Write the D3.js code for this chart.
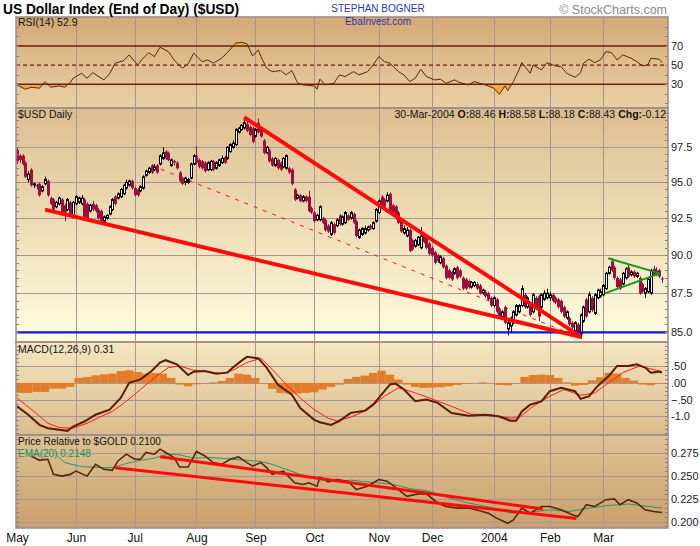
<!DOCTYPE html>
<html>
<head>
<meta charset="utf-8">
<script src="https://cdn.jsdelivr.net/npm/d3@7"></script>
<style>
    body { margin: 0; background: #fff; }
    svg text { font-family: Arial, "Liberation Sans", sans-serif; }
</style>
</head>
<body>
<div id="chart"></div>
<script>
/* * * * * * * * * * * * * *
*   $USD daily, 4 panels   *
* * * * * * * * * * * * * */

// month ticks (trading-day index of first session in each month)
let monthLabels = ["May", "Jun", "Jul", "Aug", "Sep", "Oct", "Nov", "Dec", "2004", "Feb", "Mar"];
let monthStarts = [0, 21, 42, 64, 85, 106, 129, 148, 170, 190, 209];

// daily candles [open, high, low, close], 1-May-2003 .. 30-Mar-2004
let ohlc = [
    [97.3,97.5,96.3,96.5],[96.9,97.0,96.4,96.6],[96.9,97.0,96.2,96.3],[96.4,96.5,95.3,95.4],[95.2,95.8,95.0,95.6],
    [95.9,96.0,94.7,94.8],[94.8,95.0,94.6,94.9],[94.8,94.9,94.5,94.7],[94.9,95.0,94.0,94.1],[94.4,94.8,94.3,94.7],
    [94.9,95.4,94.8,95.2],[95.1,95.2,94.0,94.1],[93.9,94.0,93.4,93.5],[93.8,93.9,93.0,93.1],[93.3,93.7,93.2,93.6],
    [93.5,94.0,93.4,93.9],[93.8,93.9,92.8,92.9],[93.4,93.5,92.3,92.9],[93.1,93.9,93.0,93.8],[93.6,93.7,92.7,92.8],
    [92.6,93.7,92.5,93.6],[93.5,94.1,93.4,94.0],[93.6,94.0,93.5,93.9],[93.5,94.1,93.4,93.9],[93.8,93.9,92.5,92.6],
    [93.5,93.6,92.4,92.5],[93.0,93.5,92.9,93.4],[93.5,93.7,93.0,93.1],[93.4,93.5,92.9,93.0],[93.1,93.2,92.4,92.5],
    [93.0,93.1,92.2,92.3],[92.3,92.7,92.2,92.6],[92.5,92.8,92.4,92.7],[92.8,93.4,92.7,93.3],[93.1,93.9,93.0,93.8],
    [94.0,94.1,93.4,93.5],[93.9,94.3,93.8,94.2],[94.0,94.6,93.9,94.5],[94.2,94.9,94.1,94.8],[94.6,95.2,94.5,95.0],
    [94.8,95.2,94.7,95.1],[95.1,95.2,94.5,94.6],[94.6,94.7,94.0,94.1],[94.5,94.6,94.0,94.1],[94.4,94.8,94.3,94.7],
    [94.6,95.5,94.5,95.4],[95.5,95.9,95.4,95.8],[95.7,96.1,95.6,96.0],[96.2,96.3,95.6,95.7],[95.9,96.3,95.8,96.1],
    [96.2,96.3,95.6,95.7],[96.3,97.0,96.2,96.9],[96.7,97.5,96.6,97.1],[97.2,97.3,96.6,96.7],[97.1,97.2,96.5,96.6],
    [96.2,96.7,96.1,96.6],[96.5,96.6,96.2,96.4],[96.4,96.5,95.9,96.0],[95.7,95.8,95.0,95.1],[95.3,95.4,94.8,94.9],
    [95.0,95.4,94.8,95.3],[95.0,95.3,94.9,95.2],[95.3,96.4,95.2,96.3],[96.3,97.0,96.2,96.9],[96.9,97.6,96.3,96.4],
    [96.6,96.7,96.0,96.1],[96.5,96.6,95.9,96.0],[96.4,96.5,95.7,95.8],[95.9,96.5,95.8,96.4],[95.9,96.6,95.8,96.5],
    [96.5,96.6,95.8,95.9],[96.0,96.5,95.9,96.4],[96.2,96.7,96.1,96.6],[96.4,96.9,96.3,96.7],[96.8,96.9,96.3,96.4],
    [96.7,97.6,96.6,97.5],[97.2,97.8,97.1,97.7],[97.5,98.0,97.4,97.8],[97.7,98.9,97.6,98.8],[98.6,99.0,98.5,98.9],
    [98.8,99.2,98.7,99.1],[98.9,99.5,98.8,99.3],[99.2,99.6,98.6,98.7],[99.0,99.1,98.3,98.4],[98.9,99.0,97.8,97.9],
    [98.3,98.9,98.2,98.8],[99.3,99.6,98.5,98.6],[98.9,99.0,98.2,98.3],[98.0,98.1,97.0,97.1],[97.1,97.6,97.0,97.5],
    [97.3,97.4,96.4,96.5],[96.7,96.8,96.1,96.2],[96.2,96.8,96.1,96.7],[96.6,96.7,95.9,96.0],[96.4,96.5,95.8,95.9],
    [96.1,96.8,96.0,96.7],[96.0,97.0,95.9,96.9],[96.0,96.1,95.6,95.7],[95.9,96.0,94.8,94.9],[94.5,94.6,93.7,93.8],
    [93.9,94.2,93.8,94.1],[94.1,94.2,93.6,93.7],[93.7,94.1,93.6,94.0],[94.0,94.1,93.6,93.7],[94.0,94.4,92.9,93.0],
    [93.2,93.3,92.8,92.9],[92.9,93.0,92.2,92.3],[92.4,92.8,92.3,92.7],[92.4,93.4,92.3,93.3],[92.5,92.6,92.1,92.2],
    [92.4,92.5,91.6,91.7],[92.0,92.1,91.5,91.6],[91.4,92.3,91.3,92.2],[92.1,92.2,91.4,91.5],[92.0,92.5,91.9,92.4],
    [92.7,92.8,92.0,92.1],[92.1,92.7,92.0,92.6],[92.2,93.0,92.1,92.9],[92.7,92.8,92.3,92.4],[92.5,93.0,92.4,92.9],
    [92.8,92.9,92.1,92.2],[92.3,92.4,91.2,91.3],[91.2,91.8,91.1,91.7],[91.4,91.9,91.3,91.8],[91.5,92.0,91.4,91.8],
    [91.7,92.0,91.6,91.9],[92.0,92.1,91.7,91.8],[91.8,92.3,91.7,92.2],[92.3,93.2,92.2,93.1],[92.9,93.8,92.8,93.7],
    [94.0,94.1,93.2,93.3],[93.8,93.9,93.2,93.3],[93.7,94.3,93.6,94.1],[94.2,94.3,92.9,93.0],[93.4,93.5,92.8,92.9],
    [93.3,93.4,92.4,92.5],[92.9,93.0,92.1,92.2],[92.4,92.5,91.5,91.6],[91.5,92.0,91.4,91.8],[91.3,91.9,91.2,91.7],
    [91.7,91.8,90.2,90.3],[91.0,91.1,90.3,90.4],[90.6,91.1,90.5,91.0],[90.7,91.3,90.6,91.2],[90.5,91.9,90.4,91.3],
    [91.4,91.5,90.8,90.9],[91.2,91.3,90.4,90.5],[90.8,90.9,90.0,90.1],[90.5,90.6,89.9,90.0],[90.2,90.3,89.4,89.5],
    [90.0,90.1,89.5,89.6],[89.5,90.0,89.4,89.9],[89.8,89.9,89.1,89.2],[89.3,89.4,88.4,88.5],[89.0,89.1,88.4,88.5],
    [88.9,89.0,88.3,88.4],[88.8,89.2,88.7,89.1],[89.2,89.3,88.4,88.5],[89.0,89.1,88.5,88.6],[88.5,88.6,87.7,87.8],
    [88.4,88.5,87.7,87.8],[88.3,88.4,87.8,87.9],[87.9,88.3,87.8,88.2],[88.0,88.3,87.9,88.2],[88.1,88.2,87.7,87.8],
    [88.0,88.1,87.4,87.5],[87.5,87.8,87.4,87.7],[87.6,87.7,87.2,87.3],[87.5,87.6,87.0,87.1],[87.2,87.3,86.6,86.7],
    [86.7,87.3,86.6,87.2],[87.1,87.2,86.2,86.3],[86.5,86.6,85.9,86.0],[86.0,86.4,85.9,86.3],[86.6,86.7,85.5,85.6],
    [85.2,85.7,84.8,85.6],[85.4,86.0,85.0,85.9],[85.6,86.4,85.5,86.3],[86.1,86.8,86.0,86.7],[86.3,86.8,86.2,86.7],
    [86.7,88.0,86.6,87.8],[87.4,87.5,86.5,86.6],[86.6,87.3,86.5,87.2],[86.7,86.8,86.0,86.1],[86.3,87.5,86.2,87.4],
    [87.2,87.3,86.5,86.6],[87.3,87.4,85.7,86.0],[86.6,87.5,86.5,87.4],[87.1,87.7,87.0,87.5],[87.2,87.8,87.1,87.5],
    [87.2,87.6,87.0,87.4],[87.4,87.5,86.9,87.0],[87.2,87.3,86.8,86.9],[87.1,87.2,86.5,86.6],[87.0,87.1,86.2,86.3],
    [86.6,86.7,85.9,86.0],[85.9,86.4,85.8,86.3],[85.9,86.0,85.4,85.5],[85.6,85.7,85.2,85.3],[85.1,85.7,85.0,85.6],
    [85.5,85.6,84.8,85.0],[84.9,86.2,84.6,86.1],[85.7,86.7,85.6,86.6],[87.1,87.2,85.9,86.0],[86.3,87.6,86.2,87.4],
    [87.2,87.3,86.3,86.4],[86.2,87.5,86.1,87.4],[87.2,87.8,87.1,87.7],[87.3,87.8,87.2,87.6],[87.4,88.1,87.3,88.0],
    [87.8,88.9,87.7,88.8],[88.8,89.3,88.7,89.2],[89.6,89.8,88.9,89.0],[89.2,89.3,88.4,88.5],[88.5,88.6,87.8,87.9],
    [88.4,88.5,87.7,87.8],[88.1,88.9,88.0,88.8],[88.5,89.2,88.4,89.1],[89.2,89.4,88.5,88.6],[88.7,89.0,88.6,88.9],
    [88.9,89.0,88.5,88.6],[88.6,88.9,88.5,88.8],[88.5,88.6,87.4,87.5],[88.1,88.2,87.5,87.6],[87.5,87.9,87.2,87.8],
    [87.6,88.5,87.5,88.4],[87.5,89.1,87.4,89.0],[89.1,89.3,88.6,88.7],[89.0,89.2,88.6,88.7],[89.0,89.1,88.5,88.6],
    [88.46,88.58,88.18,88.43]
];

// RSI(14), [day, value]
let rsiPts = [
    [0,29.3],[3,24.8],[5,26.9],[8,25.9],[10,32.8],[12,26.9],[15,28.3],[17,26.9],[19,31.7],[20,36.3],
    [23,41.5],[25,36.3],[27,42.2],[31,34.5],[33,40.8],[35,52],[38,54.7],[40,60.7],[43,50.2],[45,57.2],
    [47,63.1],[49,58.9],[51,68.7],[54,64.1],[56,55.4],[59,46.8],[61,51.3],[63,62.4],[66,53.7],[68,55.4],
    [70,52],[73,57.2],[75,63.1],[78,72.9],[80,73.9],[82,72.2],[84,59.6],[86,65.9],[87,58.9],[89,46.8],
    [91,43.2],[94,44.3],[96,39.8],[98,44.3],[100,31.7],[102,29.3],[106,28.3],[107,24.8],[108,35.3],[110,29.3],
    [113,31.1],[115,39.8],[117,38],[120,43.2],[122,39.8],[125,43.2],[127,50.2],[129,58.9],[131,53.7],[133,52],
    [136,43.2],[138,39.8],[140,32.8],[142,36.3],[144,45.7],[146,38],[149,34.5],[151,35.3],[153,31.1],[156,34.5],
    [158,31.7],[161,29.3],[163,32.8],[165,31.1],[168,28.3],[170,25.9],[172,19.6],[174,28.3],[175,23.4],[177,32.8],
    [179,45],[180,52.6],[183,41.5],[184,50.2],[187,45],[189,52.6],[192,49.2],[194,48.5],[196,41.5],[199,37.3],
    [201,42.2],[202,52],[204,56.2],[206,52.6],[208,55.4],[210,64.1],[212,63.1],[214,55.4],[216,60.7],[219,57.2],
    [221,53.7],[223,49.2],[225,50.2],[226,57.2],[229,56.2],[230,52.9]
];

// MACD(12,26,9) line and signal, [day, value]
let macdPts = [
    [0,-0.705],[4,-0.957],[8,-1.26],[11,-1.36],[15,-1.41],[18,-1.44],[20,-1.31],[24,-1.16],[28,-0.957],[33,-0.805],
    [37,-0.45],[40,0.006],[44,0.106],[48,0.359],[51,0.614],[53,0.684],[57,0.562],[61,0.237],[63,0.34],[67,0.359],
    [71,0.28],[75,0.31],[77,0.462],[80,0.663],[82,0.784],[86,0.745],[89,0.462],[93,-0.046],[98,-0.35],[101,-0.754],
    [106,-1.11],[108,-1.18],[112,-1.26],[115,-1.14],[119,-0.9],[124,-0.836],[127,-0.653],[130,-0.35],[133,-0.046],[135,-0.02],
    [138,-0.198],[142,-0.55],[146,-0.5],[150,-0.6],[155,-0.906],[161,-0.988],[167,-0.957],[172,-1.01],[176,-1.14],[178,-1.14],
    [180,-0.857],[183,-0.653],[187,-0.553],[190,-0.249],[194,-0.146],[199,-0.249],[201,-0.48],[204,-0.4],[207,-0.097],[211,0.207],
    [214,0.51],[218,0.51],[221,0.562],[224,0.462],[226,0.31],[229,0.34],[230,0.31]
];
let signalPts = [
    [0,-0.45],[6,-0.857],[11,-1.21],[15,-1.34],[20,-1.36],[25,-1.21],[30,-1.01],[34,-0.857],[39,-0.553],[44,-0.198],
    [49,0.158],[54,0.462],[58,0.51],[63,0.38],[68,0.34],[73,0.28],[77,0.38],[82,0.614],[87,0.745],[91,0.41],
    [96,-0.046],[101,-0.45],[106,-0.805],[111,-1.06],[114,-1.14],[119,-1.03],[125,-0.805],[131,-0.4],[136,-0.146],[141,-0.27],
    [147,-0.45],[155,-0.705],[162,-0.94],[169,-0.957],[176,-1.06],[179,-1.04],[184,-0.705],[190,-0.4],[195,-0.198],[201,-0.37],
    [206,-0.3],[211,0.006],[216,0.31],[222,0.51],[228,0.38],[230,0.34]
];
// histogram, one bar per 3 sessions starting at day 0
let histValues = [
    -0.30,-0.30,-0.27,-0.27,-0.17,-0.17,-0.12,0.15,0.18,0.23,
    0.26,0.28,0.36,0.38,0.33,0.28,0.30,0.28,0.15,-0.05,
    -0.10,-0.04,0.00,0.02,0.06,0.15,0.28,0.25,0.15,0.00,
    -0.18,-0.30,-0.32,-0.32,-0.30,-0.28,-0.20,-0.12,-0.05,0.12,
    0.18,0.22,0.30,0.37,0.25,0.10,-0.05,-0.12,-0.15,-0.14,
    -0.13,-0.10,-0.06,-0.03,0.00,0.02,0.00,-0.06,-0.07,0.00,
    0.18,0.24,0.25,0.24,0.15,0.02,-0.08,-0.06,0.08,0.17,
    0.30,0.28,0.15,0.07,-0.05,-0.07,-0.02
];

// price relative to $GOLD and its EMA(20), [day, value]
let relPts = [
    [5,0.2719],[8,0.2671],[11,0.2682],[13,0.2517],[16,0.2498],[19,0.2517],[21,0.2553],[25,0.2498],[28,0.2627],[31,0.2572],
    [34,0.2561],[36,0.2664],[39,0.2738],[42,0.2682],[44,0.2682],[46,0.2757],[49,0.2738],[51,0.2793],[53,0.2757],[56,0.2701],
    [58,0.2597],[61,0.2597],[64,0.2768],[67,0.2719],[70,0.2646],[73,0.2627],[76,0.2682],[79,0.2708],[82,0.2646],[84,0.2608],
    [87,0.2646],[89,0.2591],[91,0.2517],[95,0.2553],[99,0.2425],[102,0.2406],[104,0.2425],[107,0.2387],[108,0.2487],[111,0.2436],
    [114,0.2461],[118,0.2442],[121,0.2351],[125,0.2387],[129,0.2461],[132,0.2442],[136,0.2351],[139,0.2277],[143,0.2303],[146,0.2303],
    [150,0.2204],[153,0.2166],[157,0.2148],[161,0.2148],[165,0.2118],[168,0.2093],[171,0.2038],[175,0.1982],[177,0.2019],[180,0.2148],
    [183,0.2093],[187,0.2166],[190,0.2166],[194,0.2129],[198,0.2074],[200,0.2055],[203,0.2185],[206,0.2166],[210,0.2240],[213,0.2248],
    [215,0.2185],[218,0.2240],[221,0.2204],[224,0.2129],[227,0.2111],[230,0.2100]
];
let emaPts = [
    [14,0.2730],[17,0.2646],[23,0.2602],[30,0.2591],[34,0.2591],[39,0.2635],[44,0.2671],[49,0.2694],[54,0.2738],[58,0.2730],
    [63,0.2694],[68,0.2701],[73,0.2694],[77,0.2682],[82,0.2671],[87,0.2657],[91,0.2627],[96,0.2572],[101,0.2517],[106,0.2472],
    [111,0.2442],[115,0.2442],[119,0.2454],[126,0.2431],[133,0.2414],[140,0.2362],[147,0.2332],[154,0.2259],[161,0.2204],[169,0.2155],
    [176,0.2093],[183,0.2104],[190,0.2129],[197,0.2111],[204,0.2148],[211,0.2177],[218,0.2192],[225,0.2166],[230,0.2148]
];

// hand-drawn annotations: [day1, value1, day2, value2]
let priceTrends = [[10, 93.1, 201.3, 84.7], [81.0, 99.7, 201.3, 84.7]];
let priceTrendDashed = [[48.0, 96.2, 198.9, 84.8]];
let triangle = [[210.8, 89.8, 229.2, 88.8], [209.6, 87.49, 229.2, 88.8]];
let supportLevel = 85.0;
let relTrends = [[35.0, 0.2589, 199.5, 0.2035], [51.0, 0.2711, 187.5, 0.2139]];

// tick values per panel
let priceTicks = [85, 87.5, 90, 92.5, 95, 97.5];
let rsiTicks = [70, 50, 30];
let macdTicks = [0.5, 0, -0.5, -1];
let relTicks = [0.200, 0.225, 0.250, 0.275];


/* layout */
let width = 700, height = 546;
let left = 16, right = 668;
let panels = {
    rsi:   {top: 17,  bottom: 108, c1: "#d3a976", c2: "#e9d0a4"},
    price: {top: 108, bottom: 342, c1: "#ddbd8f", c2: "#fffde0"},
    macd:  {top: 342, bottom: 435, c1: "#f3e6c2", c2: "#dcbb8b"},
    rel:   {top: 435, bottom: 528, c1: "#dfc295", c2: "#c9a06c"}
};
let gridColour = "#a99494";

let svg = d3.select("#chart").append("svg")
    .attr("width", width)
    .attr("height", height);
let defs = svg.append("defs");

let x = d3.scaleLinear().domain([0, 230]).range([17, 662]);
let yRsi = d3.scaleLinear().domain([5.2, 100.3]).range([panels.rsi.bottom, panels.rsi.top]);
let yPrice = d3.scaleLog().domain([84.39, 100.39]).range([panels.price.bottom, panels.price.top]);
let yMacd = d3.scaleLinear().domain([-1.565, 1.231]).range([panels.macd.bottom, panels.macd.top]);
let yRel = d3.scaleLinear().domain([0.193, 0.2948]).range([panels.rel.bottom, panels.rel.top]);

// background, clip and vertical grid for each panel
Object.keys(panels).forEach(key => {
    let p = panels[key];
    let g = defs.append("linearGradient").attr("id", "bg-" + key)
        .attr("x1", 0).attr("y1", 0).attr("x2", 0).attr("y2", 1);
    g.append("stop").attr("offset", "0%").attr("stop-color", p.c1);
    g.append("stop").attr("offset", "100%").attr("stop-color", p.c2);
    defs.append("clipPath").attr("id", "clip-" + key).append("rect")
        .attr("x", left).attr("y", p.top).attr("width", right - left).attr("height", p.bottom - p.top);

    svg.append("rect")
        .attr("x", left).attr("y", p.top)
        .attr("width", right - left).attr("height", p.bottom - p.top)
        .attr("fill", `url(#bg-${key})`);

    svg.append("g").selectAll("line")
        .data(monthStarts.slice(1))
        .enter().append("line")
        .attr("x1", d => Math.round(x(d)) + 0.5).attr("x2", d => Math.round(x(d)) + 0.5)
        .attr("y1", p.top).attr("y2", p.bottom)
        .attr("stroke", gridColour).attr("stroke-width", 1);

    p.layer = svg.append("g").attr("clip-path", `url(#clip-${key})`);
});

function hGrid(layer, scale, ticks) {
    layer.selectAll("line.hgrid")
        .data(ticks)
        .enter().append("line")
        .attr("class", "hgrid")
        .attr("x1", left).attr("x2", right)
        .attr("y1", d => Math.round(scale(d)) + 0.5).attr("y2", d => Math.round(scale(d)) + 0.5)
        .attr("stroke", gridColour).attr("stroke-width", 1);
}
hGrid(panels.price.layer, yPrice, priceTicks);
hGrid(panels.macd.layer, yMacd, macdTicks);
hGrid(panels.rel.layer, yRel, relTicks);

/* RSI panel */
let rsiLayer = panels.rsi.layer;
let rsiArea70 = d3.area().x(d => x(d[0])).y0(yRsi(70)).y1(d => yRsi(d[1]));
let rsiArea30 = d3.area().x(d => x(d[0])).y0(yRsi(30)).y1(d => yRsi(d[1]));
defs.append("clipPath").attr("id", "clip-over").append("rect")
    .attr("x", left).attr("y", panels.rsi.top).attr("width", right - left).attr("height", yRsi(70) - panels.rsi.top);
defs.append("clipPath").attr("id", "clip-under").append("rect")
    .attr("x", left).attr("y", yRsi(30)).attr("width", right - left).attr("height", panels.rsi.bottom - yRsi(30));
rsiLayer.append("path").datum(rsiPts).attr("d", rsiArea70)
    .attr("fill", "#f2ad36").attr("clip-path", "url(#clip-over)");
rsiLayer.append("path").datum(rsiPts).attr("d", rsiArea30)
    .attr("fill", "#f2ad36").attr("clip-path", "url(#clip-under)");
rsiLayer.selectAll("line.level")
    .data(rsiTicks)
    .enter().append("line")
    .attr("class", "level")
    .attr("x1", left).attr("x2", right)
    .attr("y1", d => yRsi(d)).attr("y2", d => yRsi(d))
    .attr("stroke", "#6b1e0e").attr("stroke-width", 1.4)
    .attr("stroke-dasharray", d => d === 50 ? "4,3" : null);
rsiLayer.append("path").datum(rsiPts)
    .attr("d", d3.line().x(d => x(d[0])).y(d => yRsi(d[1])))
    .attr("fill", "none").attr("stroke", "#5b2608").attr("stroke-width", 1);

/* price panel */
let priceLayer = panels.price.layer;
let trendLine = d3.line().x(d => x(d[0])).y(d => yPrice(d[1]));
priceLayer.selectAll("path.dashed")
    .data(priceTrendDashed)
    .enter().append("path")
    .attr("class", "dashed")
    .attr("d", d => trendLine([[d[0], d[1]], [d[2], d[3]]]))
    .attr("stroke", "#ff1010").attr("stroke-width", 1).attr("stroke-dasharray", "4,6");

let candles = priceLayer.selectAll("g.candle")
    .data(ohlc)
    .enter().append("g")
    .attr("class", "candle");
candles.append("line")
    .attr("x1", (d, i) => Math.round(x(i)) + 0.5).attr("x2", (d, i) => Math.round(x(i)) + 0.5)
    .attr("y1", d => yPrice(d[1])).attr("y2", d => yPrice(d[2]))
    .attr("stroke", d => d[3] < d[0] ? "#9b1040" : "#000").attr("stroke-width", 1);
candles.append("rect")
    .attr("x", (d, i) => d[3] < d[0] ? Math.round(x(i)) - 1 : Math.round(x(i)) - 0.5)
    .attr("width", d => d[3] < d[0] ? 3 : 2)
    .attr("y", d => yPrice(Math.max(d[0], d[3])))
    .attr("height", d => Math.max(1, yPrice(Math.min(d[0], d[3])) - yPrice(Math.max(d[0], d[3]))))
    .attr("fill", d => d[3] < d[0] ? "#9b1040" : "#fff")
    .attr("stroke", d => d[3] < d[0] ? "none" : "#000")
    .attr("stroke-width", 1);

priceLayer.append("line")
    .attr("x1", left).attr("x2", right)
    .attr("y1", yPrice(supportLevel)).attr("y2", yPrice(supportLevel))
    .attr("stroke", "#0a14e6").attr("stroke-width", 2.2);

priceLayer.selectAll("path.trend")
    .data(priceTrends)
    .enter().append("path")
    .attr("class", "trend")
    .attr("d", d => trendLine([[d[0], d[1]], [d[2], d[3]]]))
    .attr("stroke", "#ff0a0a").attr("stroke-width", 4);
priceLayer.selectAll("path.tri")
    .data(triangle)
    .enter().append("path")
    .attr("class", "tri")
    .attr("d", d => trendLine([[d[0], d[1]], [d[2], d[3]]]))
    .attr("stroke", "#139a13").attr("stroke-width", 2);

/* MACD panel */
let macdLayer = panels.macd.layer;
macdLayer.selectAll("rect.hist")
    .data(histValues)
    .enter().append("rect")
    .attr("class", "hist")
    .attr("x", (d, i) => x(i * 3) - 1.4)
    .attr("width", x(3) - x(0))
    .attr("y", d => yMacd(Math.max(0, d)))
    .attr("height", d => Math.abs(yMacd(d) - yMacd(0)))
    .attr("fill", "#e27d2c");
macdLayer.append("path").datum(signalPts)
    .attr("d", d3.line().x(d => x(d[0])).y(d => yMacd(d[1])))
    .attr("fill", "none").attr("stroke", "#ff1a1a").attr("stroke-width", 1);
macdLayer.append("path").datum(macdPts)
    .attr("d", d3.line().x(d => x(d[0])).y(d => yMacd(d[1])))
    .attr("fill", "none").attr("stroke", "#5a1c04").attr("stroke-width", 2);

/* price relative panel */
let relLayer = panels.rel.layer;
relLayer.append("path").datum(emaPts)
    .attr("d", d3.line().x(d => x(d[0])).y(d => yRel(d[1])))
    .attr("fill", "none").attr("stroke", "#1e9a6c").attr("stroke-width", 1);
relLayer.append("path").datum(relPts)
    .attr("d", d3.line().x(d => x(d[0])).y(d => yRel(d[1])))
    .attr("fill", "none").attr("stroke", "#5a2508").attr("stroke-width", 1.6);
let relLine = d3.line().x(d => x(d[0])).y(d => yRel(d[1]));
relLayer.selectAll("path.trend")
    .data(relTrends)
    .enter().append("path")
    .attr("class", "trend")
    .attr("d", d => relLine([[d[0], d[1]], [d[2], d[3]]]))
    .attr("stroke", "#ff0a0a").attr("stroke-width", 3);

/* minor ticks on both frame edges */
function minorTicks(scale, values) {
    let g = svg.append("g");
    [left, right].forEach(edge => {
        g.selectAll(null)
            .data(values)
            .enter().append("line")
            .attr("x1", edge).attr("x2", edge === left ? edge + 3 : edge - 3)
            .attr("y1", d => Math.round(scale(d)) + 0.5).attr("y2", d => Math.round(scale(d)) + 0.5)
            .attr("stroke", "#8e7c7c").attr("stroke-width", 1);
    });
}
minorTicks(yPrice, d3.range(85, 100.1, 0.5));
minorTicks(yRsi, d3.range(10, 100, 10));
minorTicks(yMacd, d3.range(-1.5, 1.25, 0.125));
minorTicks(yRel, d3.range(0.195, 0.295, 0.005));

/* frames */
Object.keys(panels).forEach(key => {
    let p = panels[key];
    svg.append("rect")
        .attr("x", left).attr("y", p.top)
        .attr("width", right - left).attr("height", p.bottom - p.top)
        .attr("fill", "none").attr("stroke", "#a18d8d").attr("stroke-width", 1.6);
});

/* right axes */
function rightAxis(scale, ticks, fmt) {
    let ax = svg.append("g")
        .attr("transform", `translate(${right}, 0)`)
        .call(d3.axisRight(scale).tickValues(ticks).tickFormat(fmt).tickSize(0).tickPadding(3));
    ax.select(".domain").remove();
    ax.selectAll("text").attr("font-size", 11).attr("fill", "#1a1a1a")
        .attr("font-family", "Arial, 'Liberation Sans', sans-serif");
}
rightAxis(yRsi, rsiTicks, d3.format("d"));
rightAxis(yPrice, priceTicks, d3.format(".1f"));
rightAxis(yMacd, macdTicks, d => d === -1 ? "-1.0" : d3.format(".2f")(d).replace("0.", "."));
rightAxis(yRel, relTicks, d3.format(".3f"));

/* bottom axis */
let xAxis = svg.append("g")
    .attr("transform", `translate(0, ${panels.rel.bottom})`)
    .call(d3.axisBottom(x).tickValues(monthStarts).tickFormat((d, i) => monthLabels[i]).tickSize(0).tickPadding(5));
xAxis.select(".domain").remove();
xAxis.selectAll("text").attr("font-size", 12).attr("fill", "#111")
    .attr("font-family", "Arial, 'Liberation Sans', sans-serif");

/* texts */
svg.append("text")
    .attr("x", 3).attr("y", 14)
    .attr("font-family", "Arial, 'Liberation Sans', sans-serif")
    .attr("font-weight", "bold").attr("font-size", 14.5).attr("fill", "#000")
    .attr("textLength", 236).attr("lengthAdjust", "spacingAndGlyphs")
    .text("US Dollar Index (End of Day) ($USD)");
svg.append("text")
    .attr("x", 378).attr("y", 12).attr("text-anchor", "middle")
    .attr("font-size", 10).attr("fill", "#2f36a8")
    .text("STEPHAN BOGNER");
svg.append("text")
    .attr("x", 378).attr("y", 25).attr("text-anchor", "middle")
    .attr("font-size", 10).attr("fill", "#2f36a8")
    .text("EbaInvest.com");
svg.append("text")
    .attr("x", 667).attr("y", 14).attr("text-anchor", "end")
    .attr("font-size", 12.5).attr("fill", "#8a8a8a")
    .text("© StockCharts.com");

svg.append("text").attr("x", 18).attr("y", 26).attr("font-size", 10.5).attr("fill", "#111")
    .text("RSI(14) 52.9");
svg.append("text").attr("x", 18).attr("y", 118).attr("font-size", 10.5).attr("fill", "#111")
    .text("$USD Daily");

let quote = svg.append("text")
    .attr("x", 666).attr("y", 118).attr("text-anchor", "end")
    .attr("font-size", 10.5).attr("fill", "#111");
[["30-Mar-2004 ", false], ["O:", true], ["88.46 ", false], ["H:", true], ["88.58 ", false],
 ["L:", true], ["88.18 ", false], ["C:", true], ["88.43 ", false], ["Chg:", true], ["-0.12", false]]
    .forEach(part => {
        quote.append("tspan").attr("font-weight", part[1] ? "bold" : "normal").text(part[0]);
    });

svg.append("text").attr("x", 18).attr("y", 353).attr("font-size", 10.5).attr("fill", "#111")
    .text("MACD(12,26,9) 0.31");
svg.append("text").attr("x", 18).attr("y", 445).attr("font-size", 10).attr("fill", "#111")
    .text("Price Relative to $GOLD  0.2100");
svg.append("text").attr("x", 18).attr("y", 456.5).attr("font-size", 10).attr("fill", "#17925f")
    .text("EMA(20) 0.2148");
</script>
</body>
</html>
